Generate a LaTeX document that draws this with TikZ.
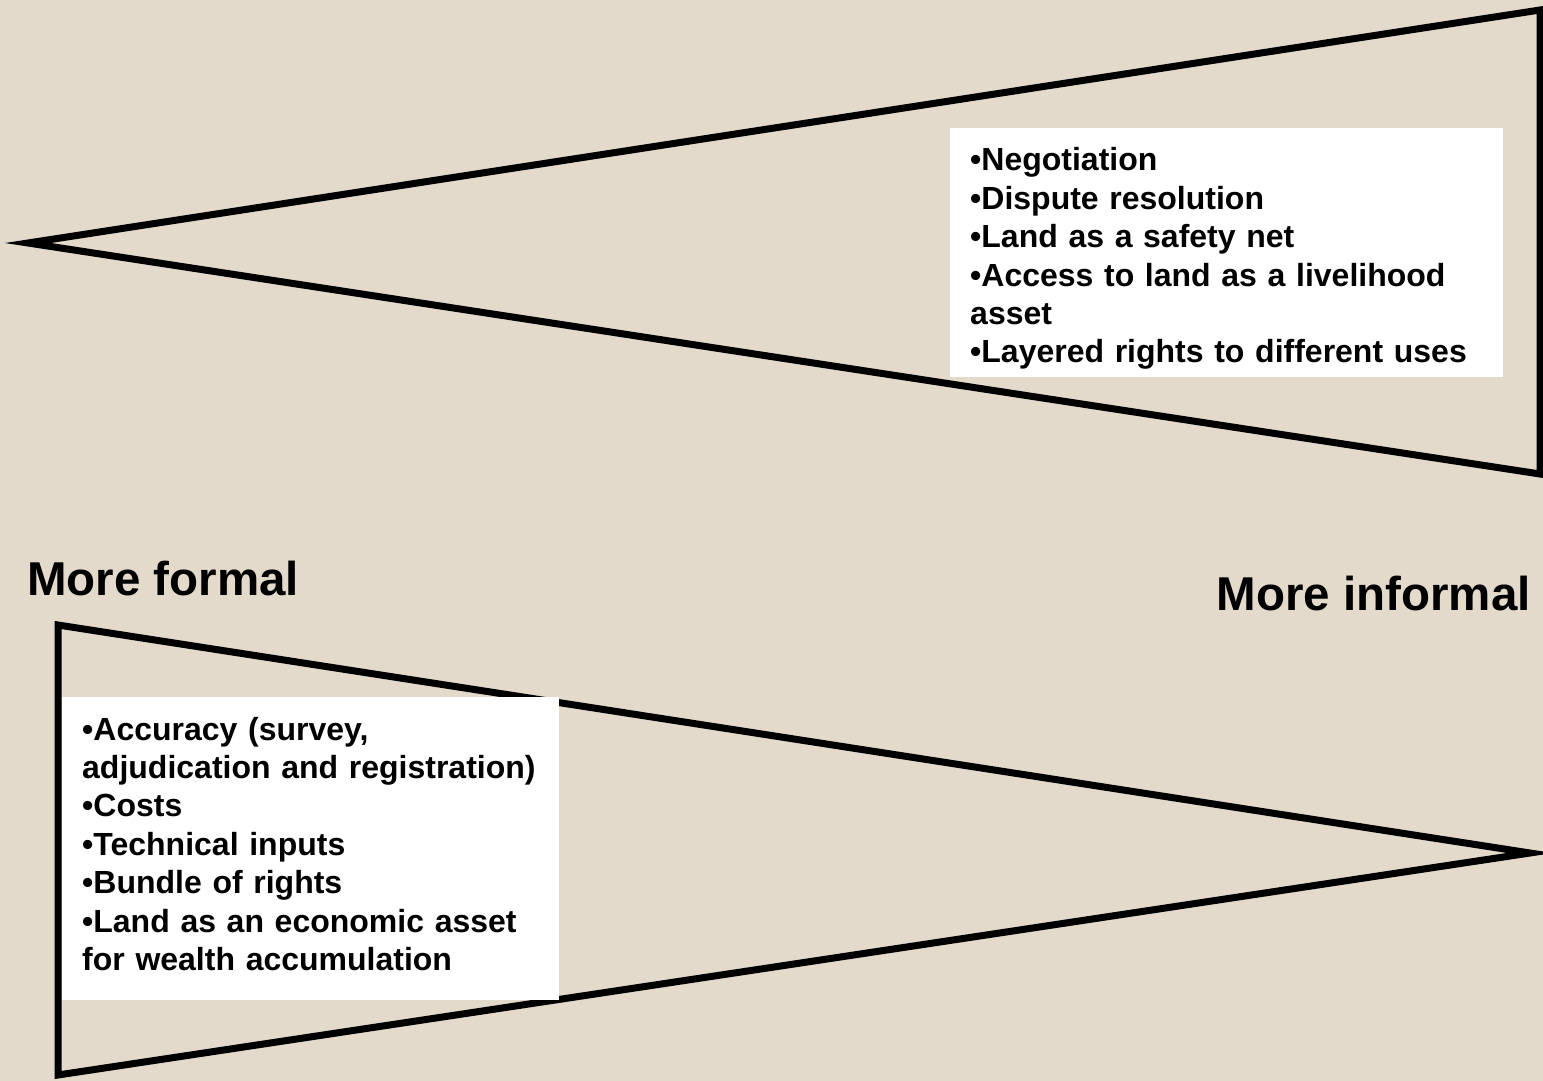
\documentclass[tikz,border=0pt]{standalone}
\usepackage{fontspec}
\setmainfont{Liberation Sans}
\usepackage{tikz}
\usetikzlibrary{positioning}
\definecolor{parchment}{RGB}{227,218,204}
\tikzset {
  % the two wedge outlines
  wedge/.style={draw=black, line width=7pt, line join=miter},
  % white panels holding the bullet lists
  panel/.style={fill=white, anchor=north west, inner xsep=20pt, inner ysep=0pt,
    align=left, font=\bfseries\fontsize{32}{38.4}\selectfont},
  % the two end labels
  endlabel/.style={inner sep=0pt, font=\bfseries\fontsize{47.5}{57}\selectfont},
}

\begin{document}
\begin{tikzpicture}[x=1pt, y=-1pt]
        \path[use as bounding box, fill=parchment] (0,0) rectangle (1543,1081);

        % informal wedge (top), opens to the right
        \coordinate (itip) at (28,243);
        \coordinate (itop) at (1540,10);
        \coordinate (ibot) at (1540,474);
        \draw[wedge] (itip) -- (itop) -- (ibot) -- cycle;

        % formal wedge (bottom), opens to the left
        \coordinate (ftop) at (58,625);
        \coordinate (fbot) at (58,1075);
        \coordinate (ftip) at (1530,853);
        \draw[wedge] (ftip) -- (ftop) -- (fbot) -- cycle;

        \node[panel, text width=513pt, minimum height=249pt] (informal) at (950,128)
          {\rule{0pt}{35pt}\textbullet Negotiation\\
           \textbullet Dispute resolution\\
           \textbullet Land as a safety net\\
           \textbullet Access to land as a livelihood\\
           asset\\
           \textbullet Layered rights to different uses};

        \node[panel, text width=457pt, minimum height=303pt] (formal) at (62,697)
          {\textbullet Accuracy (survey,\\
           adjudication and registration)\\
           \textbullet Costs\\
           \textbullet Technical inputs\\
           \textbullet Bundle of rights\\
           \textbullet Land as an economic asset\\
           for wealth accumulation\rule[-10pt]{0pt}{0pt}};

        \node[endlabel, anchor=base west] (morefor) at (27,595) {More formal};
        \node[endlabel, anchor=base east] (moreinf) at (1531,610) {More informal};
\end{tikzpicture}
\end{document}
